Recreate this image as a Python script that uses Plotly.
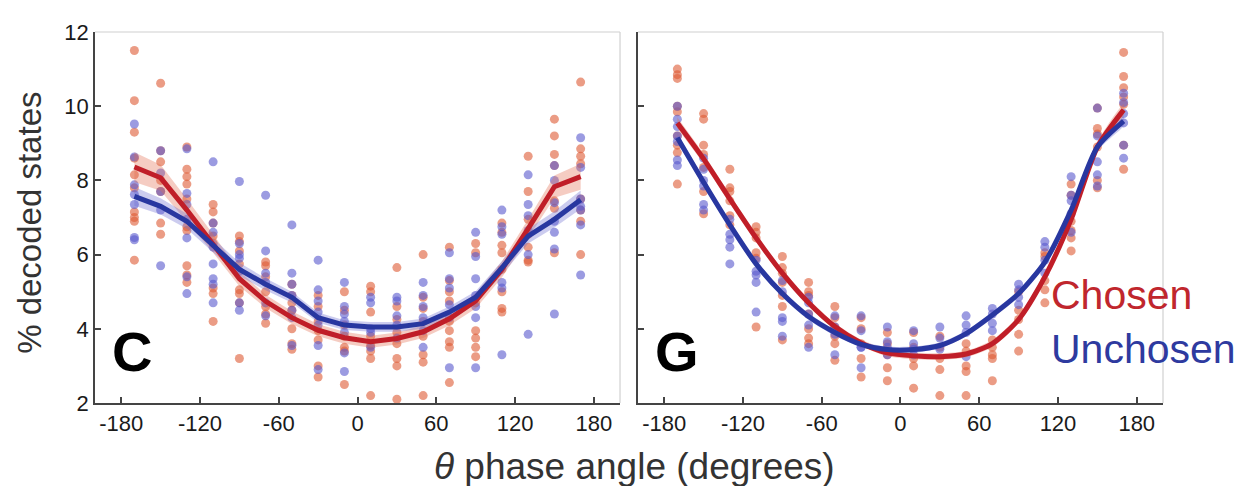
import plotly.graph_objects as go

# phase bins (degrees)
bins = [-170, -150, -130, -110, -90, -70, -50, -30, -10, 10, 30, 50, 70, 90, 110, 130, 150, 170]
xticks = [-180, -120, -60, 0, 60, 120, 180]
xticklabels = ["-180", "-120", "-60", "0", "60", "120", "180"]
yticks = [2, 4, 6, 8, 10, 12]

# panel C: mean curves and error bands
c_red_mean = [8.36, 8.07, 7.2, 6.3, 5.35, 4.74, 4.3, 3.96, 3.76, 3.65, 3.74, 3.92, 4.27, 4.75, 5.6, 6.7, 7.83, 8.1]
c_blue_mean = [7.57, 7.3, 6.9, 6.25, 5.6, 5.2, 4.85, 4.3, 4.1, 4.05, 4.05, 4.14, 4.45, 4.85, 5.64, 6.5, 6.95, 7.48]
c_red_sem = [0.4, 0.35, 0.3, 0.25, 0.2, 0.18, 0.17, 0.16, 0.16, 0.16, 0.16, 0.17, 0.18, 0.2, 0.22, 0.25, 0.3, 0.35]
c_blue_sem = [0.25, 0.22, 0.2, 0.2, 0.18, 0.16, 0.15, 0.14, 0.13, 0.13, 0.13, 0.14, 0.15, 0.16, 0.18, 0.2, 0.22, 0.25]

# panel G: mean curves and error bands
g_red_mean = [9.55, 8.58, 7.5, 6.45, 5.5, 4.7, 4.06, 3.62, 3.35, 3.27, 3.25, 3.32, 3.6, 4.25, 5.4, 6.95, 8.9, 9.9]
g_blue_mean = [9.15, 7.95, 6.8, 5.75, 4.95, 4.33, 3.9, 3.58, 3.44, 3.44, 3.55, 3.87, 4.37, 4.95, 5.8, 7.2, 8.9, 9.6]
g_red_sem = [0.15, 0.13, 0.12, 0.11, 0.1, 0.1, 0.09, 0.09, 0.09, 0.09, 0.09, 0.09, 0.1, 0.1, 0.11, 0.12, 0.13, 0.15]
g_blue_sem = [0.12, 0.11, 0.1, 0.1, 0.09, 0.09, 0.08, 0.08, 0.08, 0.08, 0.08, 0.08, 0.09, 0.09, 0.1, 0.1, 0.11, 0.12]

# individual sessions per bin
c_red_pts = [
    [11.5, 10.15, 9.3, 8.6, 8.15, 7.8, 7.15, 7.0, 6.9, 5.85],
    [10.62, 8.8, 8.5, 8.0, 7.7, 6.85, 6.55],
    [8.9, 8.3, 8.1, 7.9, 7.5, 6.75, 6.65, 5.7, 5.45, 5.25],
    [7.35, 7.15, 6.85, 6.5, 6.3, 5.1, 4.95, 4.2],
    [6.5, 6.35, 6.1, 5.75, 5.05, 4.95, 4.7, 3.2],
    [5.8, 5.7, 5.4, 5.0, 4.6, 4.4, 4.15],
    [5.2, 4.9, 4.7, 4.5, 4.0, 3.6, 3.45],
    [4.9, 4.6, 4.2, 3.95, 3.7, 3.0, 2.7],
    [5.0, 4.5, 4.1, 3.8, 3.5, 3.4, 2.5],
    [5.15, 5.0, 4.45, 3.8, 3.55, 3.4, 3.2, 2.2],
    [5.65, 4.6, 4.25, 3.9, 3.6, 3.2, 3.0, 2.1],
    [6.0, 4.85, 4.55, 4.2, 3.8, 3.3, 3.1, 2.2],
    [6.2, 5.3, 5.0, 4.75, 4.2, 3.95, 3.65, 3.5, 2.55],
    [6.3, 6.05, 4.7, 3.95, 3.75, 3.5, 3.25],
    [6.85, 6.6, 6.25, 6.05, 5.6, 5.0, 4.55, 4.45],
    [8.65, 7.7, 6.95, 6.55, 6.2, 5.85, 5.8],
    [9.65, 9.2, 8.7, 8.4, 7.45, 7.25, 6.05],
    [10.65, 8.85, 8.65, 8.45, 7.5, 7.2, 6.9, 6.0],
]
c_blue_pts = [
    [9.52, 8.63, 7.88, 7.62, 7.35, 6.46, 6.4],
    [8.8, 8.2, 7.7, 7.2, 5.7],
    [8.85, 7.65, 7.35, 6.95, 6.45, 5.4, 4.95],
    [8.5, 6.85, 6.6, 6.2, 5.75, 5.35, 5.2, 4.7],
    [7.97, 6.3, 6.0, 5.9, 5.55, 4.7, 4.5],
    [7.6, 6.1, 5.5, 5.25, 4.7, 4.35],
    [6.8, 5.5, 5.2, 4.9, 4.5, 4.3, 3.55],
    [5.85, 5.05, 4.75, 4.45, 4.1, 3.55, 2.9],
    [5.25, 4.6, 4.4, 4.2, 3.9, 3.35, 2.85],
    [4.85, 4.7, 4.0, 3.9, 3.5],
    [4.85, 4.75, 4.35, 4.1, 3.75],
    [5.25, 4.9, 4.6, 4.3, 3.95, 3.5],
    [6.05, 5.35, 5.1, 4.65, 4.3, 2.95],
    [6.6, 5.95, 5.35, 4.9, 4.6, 4.3, 2.95],
    [7.2, 6.75, 6.55, 5.25, 5.1, 3.3],
    [8.15, 7.35, 7.05, 6.65, 6.0, 3.85],
    [8.4, 8.0, 7.4, 6.9, 6.6, 6.15, 4.4],
    [9.15, 8.35, 7.5, 7.3, 7.2, 6.8, 5.45],
]
g_red_pts = [
    [11.0, 10.85, 10.75, 10.0, 9.85, 9.2, 8.95, 8.75, 7.9],
    [9.8, 9.65, 8.95, 8.7, 8.35, 7.7, 7.1],
    [8.3, 7.8, 7.7, 7.45, 7.05, 6.8],
    [6.75, 6.6, 6.45, 6.05, 5.9, 4.05],
    [5.95, 5.65, 5.5, 5.25, 4.9, 4.6, 3.7],
    [5.25, 5.0, 4.9, 4.4, 4.0, 3.75, 3.6],
    [4.6, 4.3, 4.05, 3.8, 3.6, 3.15],
    [4.3, 4.0, 3.6, 3.2, 2.7],
    [3.9, 3.6, 3.3, 2.95, 2.6],
    [3.9, 3.5, 3.2, 3.0, 2.4],
    [3.8, 3.5, 3.2, 2.9, 2.2],
    [3.6, 3.4, 3.0, 2.85, 2.2],
    [3.7, 3.5, 3.3, 3.2, 2.6],
    [5.0, 4.5, 4.25, 3.85, 3.4],
    [6.05, 5.95, 5.3, 5.05, 4.7],
    [7.9, 7.6, 6.9, 6.65, 6.45, 6.1],
    [9.95, 9.4, 9.25, 8.9, 8.0, 7.8],
    [11.45, 10.8, 10.5, 10.25, 10.05, 8.95, 8.3],
]
g_blue_pts = [
    [10.0, 9.65, 9.45, 9.2, 9.05, 8.55, 8.4],
    [8.6, 8.3, 8.0, 7.85, 7.35, 7.2],
    [6.95, 6.55, 6.4, 6.2, 5.75],
    [5.85, 5.55, 5.45, 5.25, 4.45],
    [5.3, 5.0, 4.3, 4.2, 3.8],
    [4.85, 4.7, 4.4, 4.1, 3.5],
    [4.35, 4.05, 3.85, 3.3],
    [4.35, 3.95, 3.5, 3.5, 2.95],
    [4.05, 3.65, 3.5, 3.3],
    [3.95, 3.6, 3.45, 3.3],
    [4.05, 3.75, 3.45],
    [4.35, 4.1, 3.9, 3.25],
    [4.55, 4.4, 4.15, 3.95],
    [5.2, 5.05, 4.85, 4.65],
    [6.35, 6.2, 5.85, 5.5],
    [8.1, 7.6, 7.45, 7.1, 6.6],
    [9.95, 9.2, 8.5, 8.15, 7.85],
    [10.35, 10.1, 9.8, 9.55, 8.95, 8.6],
]

RED_DOT = "rgb(222,90,52)"
BLUE_DOT = "rgb(88,88,205)"
RED_LINE = "rgb(192,30,40)"
BLUE_LINE = "rgb(40,55,160)"
RED_BAND = "rgba(225,110,80,0.35)"
BLUE_BAND = "rgba(110,110,210,0.35)"
FONT = "Liberation Sans, Arial, Helvetica, sans-serif"

fig = go.Figure()


def flat(pts):
    xs, ys = [], []
    for b, vals in zip(bins, pts):
        xs += [b] * len(vals)
        ys += vals
    return xs, ys


def add_panel(xa, ya, red_pts, blue_pts, red_mean, blue_mean, red_sem, blue_sem, shape):
    for pts, col in [(red_pts, RED_DOT), (blue_pts, BLUE_DOT)]:
        xs, ys = flat(pts)
        fig.add_trace(go.Scatter(x=xs, y=ys, mode="markers", xaxis=xa, yaxis=ya,
                                 marker=dict(size=9, color=col, opacity=0.6, line=dict(width=0)),
                                 showlegend=False, hoverinfo="skip"))
    for mean, sem, band in [(red_mean, red_sem, RED_BAND), (blue_mean, blue_sem, BLUE_BAND)]:
        up = [m + s for m, s in zip(mean, sem)]
        lo = [m - s for m, s in zip(mean, sem)]
        fig.add_trace(go.Scatter(x=bins + bins[::-1], y=up + lo[::-1], fill="toself",
                                 fillcolor=band, line=dict(width=0, shape=shape, smoothing=0.7), mode="lines",
                                 xaxis=xa, yaxis=ya, showlegend=False, hoverinfo="skip"))
    for mean, col in [(red_mean, RED_LINE), (blue_mean, BLUE_LINE)]:
        fig.add_trace(go.Scatter(x=bins, y=mean, mode="lines", xaxis=xa, yaxis=ya,
                                 line=dict(color=col, width=5, shape=shape, smoothing=0.7),
                                 showlegend=False, hoverinfo="skip"))


add_panel("x", "y", c_red_pts, c_blue_pts, c_red_mean, c_blue_mean, c_red_sem, c_blue_sem, "linear")
add_panel("x2", "y2", g_red_pts, g_blue_pts, g_red_mean, g_blue_mean, g_red_sem, g_blue_sem, "spline")

xaxis_style = dict(range=[-200, 200], tickvals=xticks, ticktext=xticklabels, ticks="inside", ticklen=6,
                   tickwidth=1.5, tickcolor="#444", showline=True, linecolor="#444", linewidth=1.5,
                   showgrid=False, zeroline=False, tickfont=dict(size=22, color="#1a1a1a", family=FONT))
yaxis_style = dict(range=[2, 12], tickvals=yticks, ticks="inside", ticklen=6, tickwidth=1.5,
                   tickcolor="#444", showline=True, linecolor="#444", linewidth=1.5,
                   showgrid=False, zeroline=False, tickfont=dict(size=22, color="#1a1a1a", family=FONT))

fig.update_layout(
    width=1254, height=486,
    margin=dict(l=87, r=99, t=16, b=91),
    plot_bgcolor="white", paper_bgcolor="white",
    font=dict(family=FONT),
    xaxis=dict(domain=[0, 0.4916], **xaxis_style),
    xaxis2=dict(domain=[0.5084, 1], anchor="y2", **xaxis_style),
    yaxis=dict(anchor="x", **yaxis_style),
    yaxis2=dict(anchor="x2", showticklabels=False, **yaxis_style),
)

# light top/right frame of each panel
for xr, yr in [("x domain", "y domain"), ("x2 domain", "y2 domain")]:
    fig.add_shape(type="line", xref=xr, yref=yr, x0=0, x1=1, y0=1, y1=1, line=dict(color="#d0d0d0", width=1.2))
    fig.add_shape(type="line", xref=xr, yref=yr, x0=1, x1=1, y0=0, y1=1, line=dict(color="#d0d0d0", width=1.2))

fig.add_annotation(text="% decoded states", xref="paper", yref="paper", x=-0.062, y=0.485, textangle=-90,
                   xanchor="center", yanchor="middle", showarrow=False, font=dict(size=33, color="#333"))
fig.add_annotation(text="<i>θ</i> phase angle (degrees)", xref="paper", yref="paper", x=0.505, y=-0.17,
                   xanchor="center", yanchor="middle", showarrow=False, font=dict(size=37, color="#333"))
fig.add_annotation(text="<b>C</b>", xref="x domain", yref="y domain", x=0.07, y=0.14,
                   xanchor="center", yanchor="middle", showarrow=False, font=dict(size=56, color="black"))
fig.add_annotation(text="<b>G</b>", xref="x2 domain", yref="y2 domain", x=0.075, y=0.14,
                   xanchor="center", yanchor="middle", showarrow=False, font=dict(size=56, color="black"))
fig.add_annotation(text="Chosen", xref="paper", yref="paper", x=0.8935, y=0.29,
                   xanchor="left", yanchor="middle", showarrow=False, font=dict(size=41, color="rgb(192,38,45)"))
fig.add_annotation(text="Unchosen", xref="paper", yref="paper", x=0.8935, y=0.145,
                   xanchor="left", yanchor="middle", showarrow=False, font=dict(size=41, color="rgb(46,58,159)"))

fig.write_html("out.html")
